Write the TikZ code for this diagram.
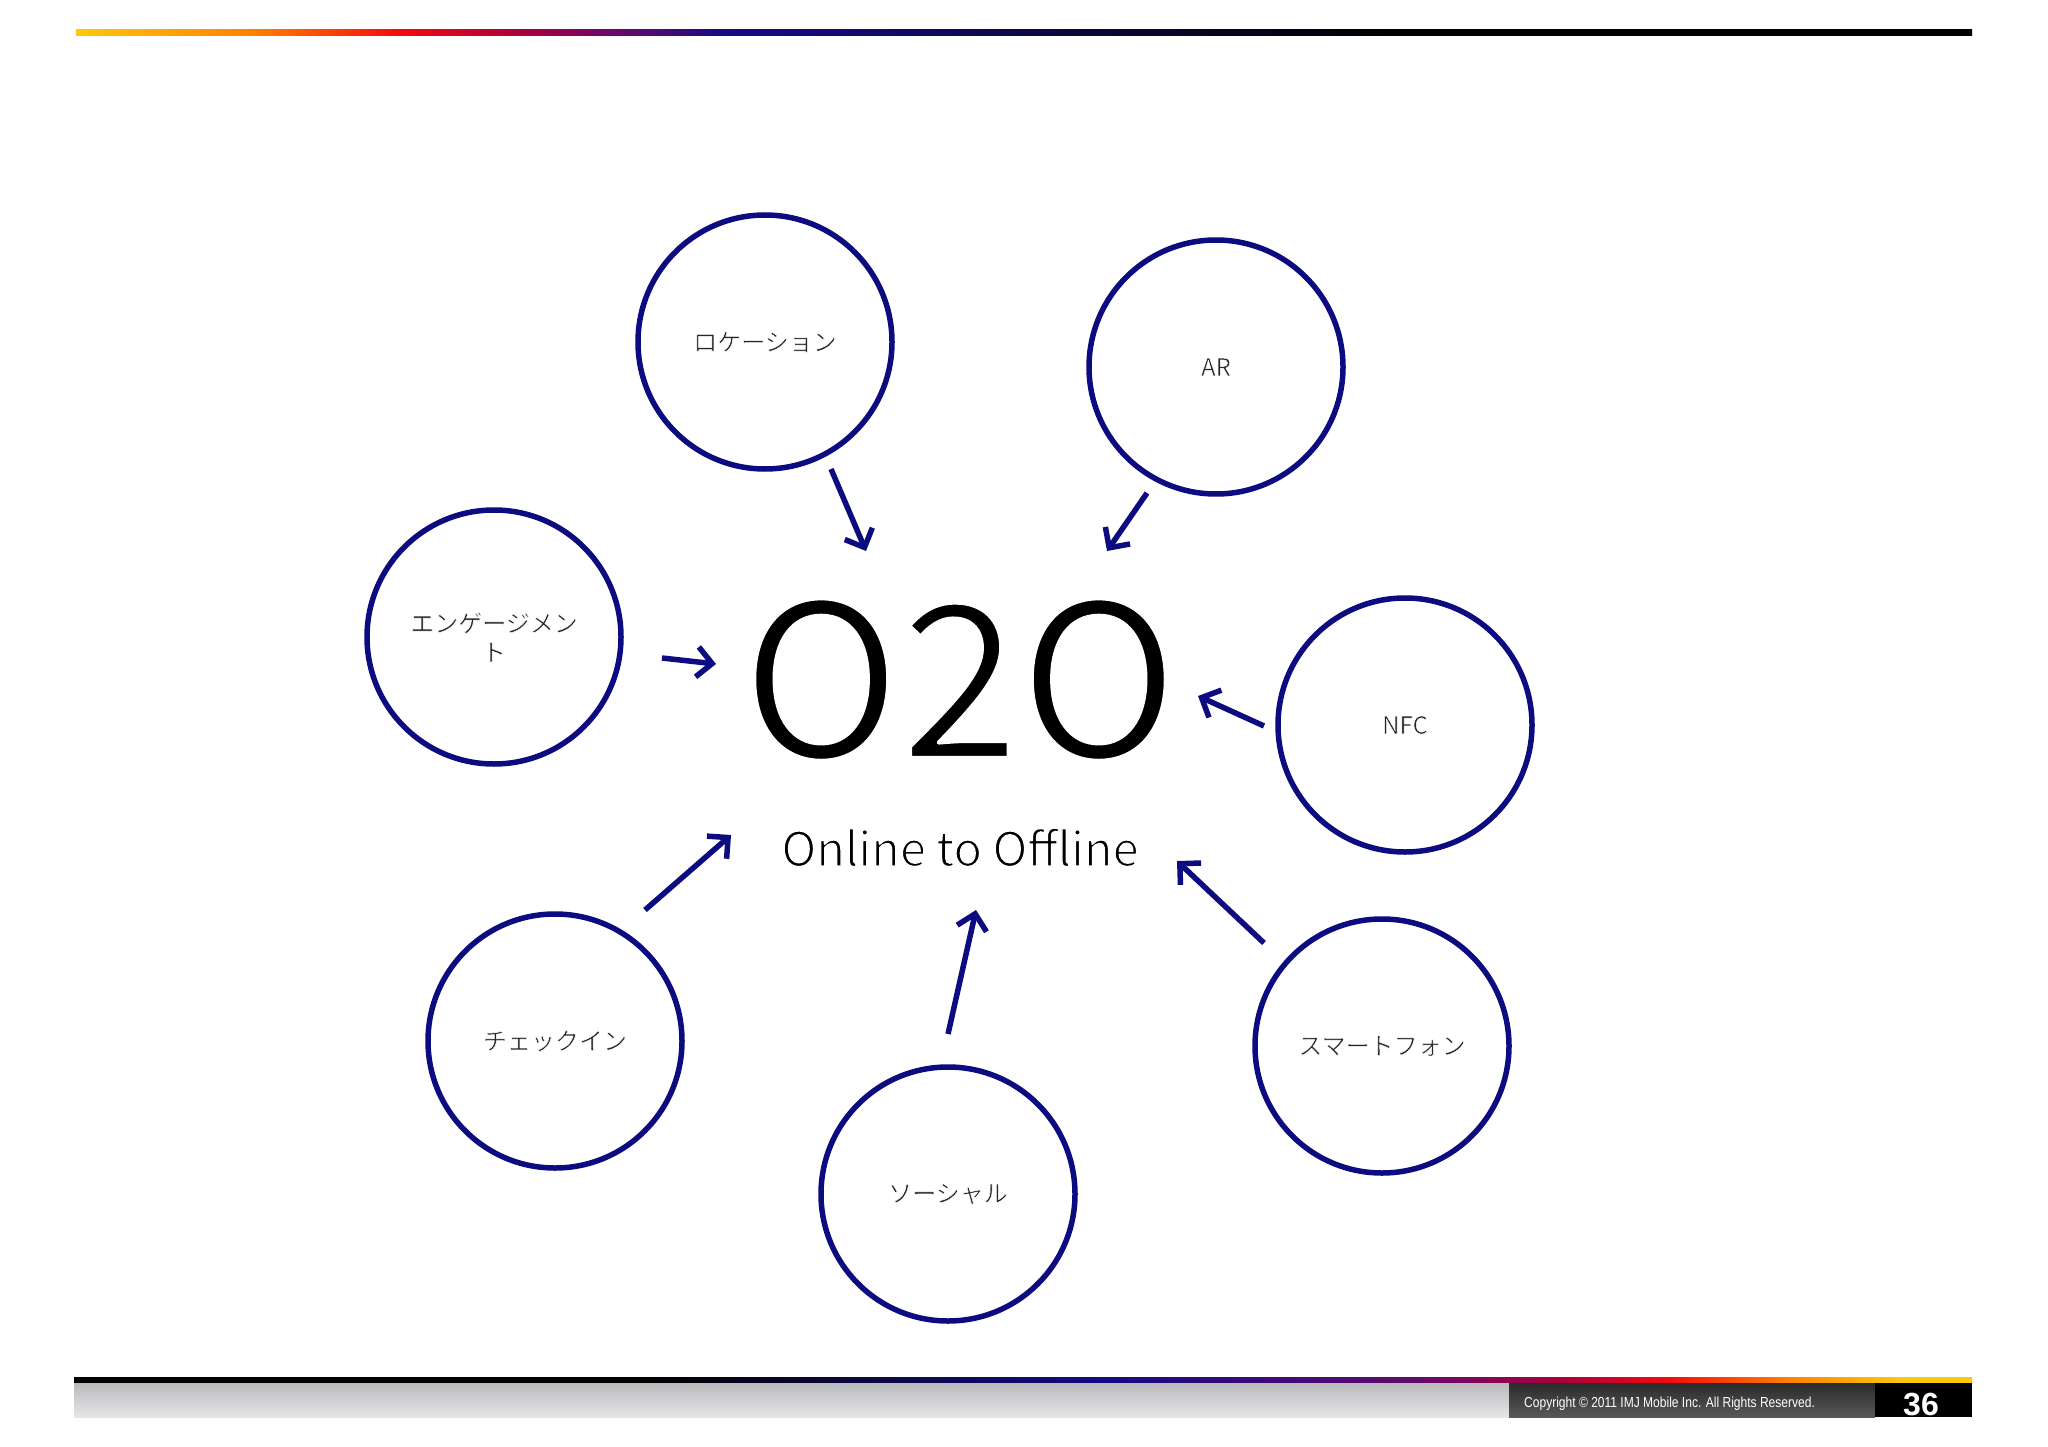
\documentclass[tikz,border=0pt]{standalone}
\usepackage{fontspec}
\setmainfont{Noto Sans CJK JP}
\newfontfamily\arialfont{Liberation Sans}
\usetikzlibrary{arrows.meta}
\definecolor{navyc}{RGB}{12,12,128}
\definecolor{cY}{RGB}{255,200,10}
\definecolor{cO}{RGB}{255,130,0}
\definecolor{cR}{RGB}{245,10,15}
\definecolor{cC}{RGB}{170,0,60}
\definecolor{cP}{RGB}{100,10,110}
\definecolor{cB}{RGB}{20,10,130}
\definecolor{cN}{RGB}{15,10,105}
\definecolor{cD}{RGB}{10,8,60}
\definecolor{cK}{RGB}{0,0,0}
\pgfdeclarehorizontalshading{topbar}{100bp}{color(0bp)=(cY); color(25bp)=(cY); color(29.59bp)=(cO); color(33.54bp)=(cR); color(36.71bp)=(cC); color(39.35bp)=(cP); color(42.25bp)=(cB); color(46.73bp)=(cN); color(50.95bp)=(cD); color(59.92bp)=(cK); color(75bp)=(cK); color(100bp)=(cK)}
\pgfdeclarehorizontalshading{botbar}{100bp}{color(0bp)=(cK); color(25bp)=(cK); color(40.17bp)=(cK); color(45.44bp)=(cD); color(52.03bp)=(cB); color(60.46bp)=(cP); color(64.15bp)=(cC); color(67.02bp)=(cR); color(70.21bp)=(cO); color(73.1bp)=(cY); color(75bp)=(cY); color(100bp)=(cY)}
% thin glyphs by stroking their outline in white
\newcommand\thinglyphs[2]{\special{pdf:literal direct 1 1 1 RG #1 w 1 j 2 Tr}#2\special{pdf:literal direct 0 Tr 0 0 0 RG}}
\tikzset{
  circ/.style={circle, draw=navyc, line width=5.5pt, minimum size=254pt, inner sep=0pt,
    font=\fontsize{24}{29}\selectfont, align=center, text=black!85},
  conn/.style={draw=navyc, line width=5.5pt, -{Straight Barb[length=15pt,width=30pt]}}
}
\begin{document}
\begin{tikzpicture}[x=1pt,y=-1pt]
\useasboundingbox (0,0) rectangle (2048,1447);
\fill[white] (0,0) rectangle (2048,1447);

% top gradient bar
\shade[shading=topbar] (76,29.5) rectangle (1972,35.5);
% bottom gradient bar
\shade[shading=botbar] (74,1377.5) rectangle (1972,1383);

% footer boxes
\fill[top color={rgb,255:red,186;green,186;blue,189},bottom color={rgb,255:red,230;green,230;blue,232}] (74,1383) rectangle (1509,1417);
\fill[top color={rgb,255:red,42;green,42;blue,42},bottom color={rgb,255:red,88;green,88;blue,88}] (1509,1383) rectangle (1875,1417);
\fill[black] (1875,1383) rectangle (1972,1417);
\node[anchor=base west, inner sep=0pt, text=white, font=\arialfont\fontsize{14.5}{14.5}\selectfont] (copy) at (1524,1407)
  {\scalebox{0.83}[1]{Copyright © 2011 IMJ Mobile Inc. All Rights Reserved.}};
\node[anchor=base, inner sep=0pt, text=white, font=\arialfont\bfseries\fontsize{32}{32}\selectfont] (pnum) at (1921,1415) {36};

% central text
\node[anchor=base, inner sep=0pt, font=\fontsize{214}{214}\selectfont] (o2o) at (960,758) {\thinglyphs{4}{O2O}};
\node[anchor=base, inner sep=0pt, font=\fontsize{47}{47}\selectfont] (sub) at (960,866) {\thinglyphs{1.4}{Online to Offline}};

% circles
\node[circ] (loc) at (765,342) {\thinglyphs{0.5}{ロケーション}};
\node[circ] (ar) at (1216,367) {\thinglyphs{0.5}{AR}};
\node[circ] (eng) at (494,637) {\thinglyphs{0.5}{エンゲージメン}\\\thinglyphs{0.5}{ト}};
\node[circ] (nfc) at (1405,725) {\thinglyphs{0.5}{NFC}};
\node[circ] (chk) at (555,1041) {\thinglyphs{0.5}{チェックイン}};
\node[circ] (soc) at (948,1194) {\thinglyphs{0.5}{ソーシャル}};
\node[circ] (smp) at (1382,1046) {\thinglyphs{0.5}{スマートフォン}};

% arrow endpoints
\coordinate (locA) at (831,469); \coordinate (locB) at (866,551);
\coordinate (arA) at (1147,493); \coordinate (arB) at (1107,551);
\coordinate (engA) at (662,658); \coordinate (engB) at (716,664);
\coordinate (nfcA) at (1264,726); \coordinate (nfcB) at (1198,696);
\coordinate (chkA) at (645,910); \coordinate (chkB) at (731,835);
\coordinate (socA) at (948,1034); \coordinate (socB) at (976,910);
\coordinate (smpA) at (1264,943); \coordinate (smpB) at (1177,861);

\draw[conn] (locA) -- (locB);
\draw[conn] (arA) -- (arB);
\draw[conn] (engA) -- (engB);
\draw[conn] (nfcA) -- (nfcB);
\draw[conn] (chkA) -- (chkB);
\draw[conn] (socA) -- (socB);
\draw[conn] (smpA) -- (smpB);
\end{tikzpicture}
\end{document}
